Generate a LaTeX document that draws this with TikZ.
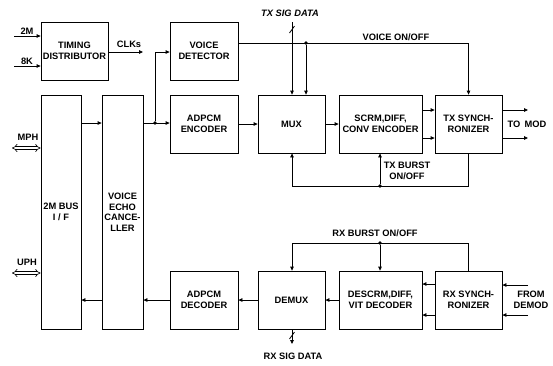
\documentclass[tikz,border=0pt]{standalone}
\usepackage{fontspec}
\setmainfont{Liberation Sans}
\usetikzlibrary{arrows.meta}
\begin{document}
\begin{tikzpicture}[x=1pt,y=-1pt,
  txt/.style={font=\bfseries\fontsize{9.3}{10.5}\selectfont},
  blk/.style={draw, line width=0.8pt, align=center, inner sep=0pt, txt},
  lbl/.style={align=center, inner sep=0pt, txt},
  ln/.style={line width=0.8pt},
  arr/.style={line width=0.8pt, -{Triangle[length=4pt,width=3.6pt]}},
  dbl/.style={double, double distance=2.2pt, line width=0.6pt, {Implies}-{Implies}},
  dotn/.style={circle, fill, inner sep=0pt, minimum size=3.6pt}]
\useasboundingbox (0,0) rectangle (553,365);

% blocks
\node[blk, minimum width=67pt, minimum height=58pt] (timing) at (74.5,51) {TIMING\\DISTRIBUTOR};
\node[blk, minimum width=68pt, minimum height=58pt] (vdet) at (204,51) {VOICE\\DETECTOR};
\node[blk, minimum width=40pt, minimum height=234pt] (bus) at (61,212) {2M BUS\\I / F};
\node[blk, minimum width=41pt, minimum height=234pt] (vec) at (122.5,212) {VOICE\\ECHO\\CANCE-\\LLER};
\node[blk, minimum width=68pt, minimum height=58pt] (enc) at (204,124) {ADPCM\\ENCODER};
\node[blk, minimum width=67pt, minimum height=58pt] (mux) at (291.5,124) {MUX};
\node[blk, minimum width=83pt, minimum height=58pt] (scrm) at (380.5,124) {SCRM,DIFF,\\CONV ENCODER};
\node[blk, minimum width=67pt, minimum height=58pt] (txs) at (468.5,124) {TX SYNCH-\\RONIZER};
\node[blk, minimum width=68pt, minimum height=58pt] (dec) at (204,300) {ADPCM\\DECODER};
\node[blk, minimum width=67pt, minimum height=58pt] (demux) at (291.5,300) {DEMUX};
\node[blk, minimum width=83pt, minimum height=58pt] (descrm) at (380.5,300) {DESCRM,DIFF,\\VIT DECODER};
\node[blk, minimum width=67pt, minimum height=58pt] (rxs) at (468.5,300) {RX SYNCH-\\RONIZER};

% timing inputs / clocks
\coordinate (in2M) at (14,36);
\coordinate (in8K) at (14,66);
\draw[arr] (in2M) -- (timing.west |- in2M);
\draw[arr] (in8K) -- (timing.west |- in8K);
\node[lbl] (l2M) at (27,31) {2M};
\node[lbl] (l8K) at (27,61) {8K};
\coordinate (clkend) at (143,52);
\draw[arr] (timing.east |- clkend) -- (clkend);
\node[lbl] (lclk) at (129,44) {CLKs};

% voice on/off
\draw[arr] (vdet.east |- 0,43) -| (txs.north);
\node[dotn] (d1) at (306,43) {};
\draw[arr] (d1) -- (mux.north -| d1);
\node[lbl] (lvoice) at (396,37) {VOICE ON/OFF};

% TX SIG DATA
\coordinate (txsig) at (292,22);
\draw[arr] (txsig) -- (mux.north -| txsig);
\draw[ln] (289.5,33) -- (294.5,26);
\node[lbl, font=\bfseries\itshape\fontsize{9.3}{10.5}\selectfont] (ltxsig) at (290,13) {TX SIG DATA};

% transmit path
\draw[arr] (bus.east |- 0,123) -- (vec.west |- 0,123);
\node[dotn] (d2) at (155,123) {};
\draw[arr] (vec.east |- d2) -- (enc.west |- d2);
\draw[arr] (d2) |- (vdet.west |- 0,52);
\draw[arr] (enc.east |- 0,124) -- (mux.west |- 0,124);
\draw[arr] (mux.east |- 0,124) -- (scrm.west |- 0,124);
\draw[arr] (scrm.east |- 0,110) -- (txs.west |- 0,110);
\draw[arr] (scrm.east |- 0,138) -- (txs.west |- 0,138);
\coordinate (mod1) at (528,110);
\coordinate (mod2) at (528,138);
\draw[arr] (txs.east |- mod1) -- (mod1);
\draw[arr] (txs.east |- mod2) -- (mod2);
\node[lbl] (lmod) at (527,124) {TO\ \,MOD};

% TX burst feedback
\coordinate (fbl) at (292,186);
\draw[arr] (txs.south) |- (fbl) -- (mux.south -| fbl);
\node[dotn] (d3) at (380,186) {};
\draw[arr] (d3) -- (scrm.south -| d3);
\node[lbl] (ltxb) at (407,171) {TX BURST\\ON/OFF};

% RX burst
\coordinate (rbl) at (292,243);
\draw[arr] (rxs.north) |- (rbl) -- (demux.north -| rbl);
\node[dotn] (d4) at (380,243) {};
\draw[arr] (d4) -- (descrm.north -| d4);
\node[lbl] (lrxb) at (375,233) {RX BURST ON/OFF};

% receive path
\coordinate (dm1) at (528,285);
\coordinate (dm2) at (528,315);
\draw[arr] (dm1) -- (rxs.east |- dm1);
\draw[arr] (dm2) -- (rxs.east |- dm2);
\node[lbl] (ldemod) at (531,300) {FROM\\DEMOD};
\draw[arr] (rxs.west |- 0,284) -- (descrm.east |- 0,284);
\draw[arr] (rxs.west |- 0,315) -- (descrm.east |- 0,315);
\draw[arr] (descrm.west) -- (demux.east);
\draw[arr] (demux.west) -- (dec.east);
\draw[arr] (dec.west) -- (vec.east |- dec.west);
\draw[arr] (vec.west |- dec.west) -- (bus.east |- dec.west);

% RX SIG DATA
\coordinate (rxsig) at (292,344);
\draw[arr] (demux.south -| rxsig) -- (rxsig);
\draw[ln] (289.5,339) -- (294.5,332);
\node[lbl] (lrxsig) at (293,356) {RX SIG DATA};

% MPH / UPH
\coordinate (mph) at (12,148);
\coordinate (uph) at (12,273);
\draw[dbl] (mph) -- (bus.west |- mph);
\draw[dbl] (uph) -- (bus.west |- uph);
\node[lbl] (lmph) at (28,137) {MPH};
\node[lbl] (luph) at (27,262) {UPH};
\end{tikzpicture}
\end{document}
